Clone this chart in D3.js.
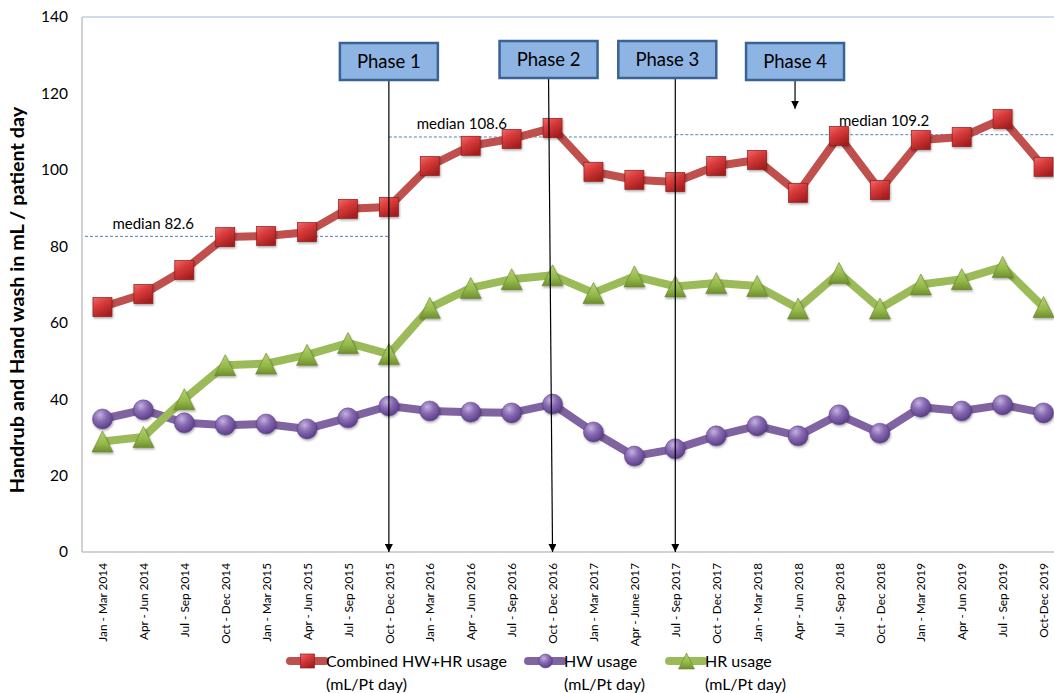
<!DOCTYPE html>
<html>
<head>
<meta charset="utf-8">
<script src="https://cdn.jsdelivr.net/npm/d3@7"></script>
<style>
  html, body { margin: 0; padding: 0; background: #fff; overflow: hidden; }
  svg { display: block; font-family: Lato, "Liberation Sans", sans-serif; }
</style>
</head>
<body>
<svg id="chart" width="1054" height="693"></svg>
<script>
// Quarterly periods
const categories = [
  "Jan - Mar 2014", "Apr - Jun 2014", "Jul - Sep 2014", "Oct - Dec 2014",
  "Jan - Mar 2015", "Apr - Jun 2015", "Jul - Sep 2015", "Oct - Dec 2015",
  "Jan - Mar 2016", "Apr - Jun 2016", "Jul - Sep 2016", "Oct - Dec 2016",
  "Jan - Mar 2017", "Apr - June 2017", "Jul - Sep 2017", "Oct - Dec 2017",
  "Jan - Mar 2018", "Apr - Jun 2018", "Jul - Sep 2018", "Oct - Dec 2018",
  "Jan - Mar 2019", "Apr - Jun 2019", "Jul - Sep 2019", "Oct-Dec 2019"
];

// mL per patient day
const combinedUsage = [64.1, 67.5, 73.8, 82.4, 82.7, 83.7, 89.8, 90.3,
                       101.0, 106.3, 108.1, 111.0, 99.5, 97.4, 96.8, 101.0,
                       102.6, 94.0, 108.9, 94.7, 107.8, 108.6, 113.3, 100.8];
const hwUsage       = [34.8, 37.2, 33.8, 33.2, 33.5, 32.2, 35.1, 38.2,
                       36.9, 36.6, 36.4, 38.7, 31.4, 25.1, 27.0, 30.4,
                       33.0, 30.4, 35.9, 31.1, 37.9, 36.9, 38.5, 36.4];
const hrUsage       = [28.9, 30.1, 40.0, 48.9, 49.3, 51.6, 54.7, 51.8,
                       63.9, 69.1, 71.4, 72.4, 67.8, 72.1, 69.5, 70.4,
                       69.6, 63.7, 73.0, 63.7, 70.0, 71.4, 74.6, 64.1];

const yTicks = [0, 20, 40, 60, 80, 100, 120, 140];

// Median reference lines: value and the period span they cover (null = plot edge)
const medianValues = [82.6, 108.6, 109.2];
const medianFrom   = [null, "Oct - Dec 2015", "Jul - Sep 2017"];
const medianTo     = ["Oct - Dec 2015", "Jul - Sep 2017", null];

// Intervention phases and the period each one starts at
const phaseLabels  = ["Phase 1", "Phase 2", "Phase 3", "Phase 4"];
const phasePeriods = ["Oct - Dec 2015", "Oct - Dec 2016", "Jul - Sep 2017", "Apr - Jun 2018"];

const svg = d3.select("#chart");
const plot = { left: 82, right: 1064, top: 17, bottom: 552 };

const x = d3.scalePoint().domain(categories)
  .range([plot.left, plot.right]).padding(0.5);
const y = d3.scaleLinear().domain([0, 140]).range([plot.bottom, plot.top]);

// ---------- gradients / markers ----------
const defs = svg.append("defs");
const sq = defs.append("linearGradient").attr("id", "gSquare")
  .attr("x1", 0).attr("y1", 0).attr("x2", 0.6).attr("y2", 1);
sq.append("stop").attr("offset", "0%").attr("stop-color", "#f06a6a");
sq.append("stop").attr("offset", "45%").attr("stop-color", "#d83a3a");
sq.append("stop").attr("offset", "100%").attr("stop-color", "#a51f1f");

const ci = defs.append("radialGradient").attr("id", "gCircle")
  .attr("cx", "38%").attr("cy", "30%").attr("r", "70%");
ci.append("stop").attr("offset", "0%").attr("stop-color", "#c4b2e0");
ci.append("stop").attr("offset", "45%").attr("stop-color", "#8a6cb4");
ci.append("stop").attr("offset", "100%").attr("stop-color", "#5c3f8a");

const tr = defs.append("linearGradient").attr("id", "gTriangle")
  .attr("x1", 0).attr("y1", 0).attr("x2", 0).attr("y2", 1);
tr.append("stop").attr("offset", "0%").attr("stop-color", "#b5d46e");
tr.append("stop").attr("offset", "60%").attr("stop-color", "#94b84a");
tr.append("stop").attr("offset", "100%").attr("stop-color", "#6f8f2e");

const shadow = defs.append("filter").attr("id", "shadow")
  .attr("x", "-30%").attr("y", "-30%").attr("width", "160%").attr("height", "160%");
shadow.append("feDropShadow").attr("dx", 0.8).attr("dy", 1.5)
  .attr("stdDeviation", 1).attr("flood-color", "#000").attr("flood-opacity", 0.35);

function drawMarker(g, kind, size) {
  if (kind === "square") {
    g.append("rect").attr("x", -size / 2).attr("y", -size / 2)
      .attr("width", size).attr("height", size)
      .attr("fill", "url(#gSquare)").attr("stroke", "#8f1c1c").attr("stroke-width", 0.7);
  } else if (kind === "circle") {
    g.append("circle").attr("r", size / 2)
      .attr("fill", "url(#gCircle)").attr("stroke", "#553a7e").attr("stroke-width", 0.5);
  } else {
    const h = size;
    g.append("path")
      .attr("d", `M0,${-h / 2} L${size / 2},${h / 2} L${-size / 2},${h / 2} Z`)
      .attr("fill", "url(#gTriangle)").attr("stroke", "#66852a").attr("stroke-width", 0.6);
  }
}

// ---------- plot frame ----------
svg.append("line").attr("x1", plot.left).attr("x2", plot.right)
  .attr("y1", plot.top).attr("y2", plot.top)
  .attr("stroke", "#9fbadb").attr("stroke-width", 1);
svg.append("line").attr("x1", plot.left).attr("x2", plot.left)
  .attr("y1", plot.top).attr("y2", plot.bottom)
  .attr("stroke", "#a5a5a5").attr("stroke-width", 1);
svg.append("line").attr("x1", plot.left).attr("x2", plot.right)
  .attr("y1", plot.bottom).attr("y2", plot.bottom)
  .attr("stroke", "#a5a5a5").attr("stroke-width", 1);

// ---------- axes ----------
const yAxis = svg.append("g").attr("transform", `translate(${plot.left},0)`)
  .call(d3.axisLeft(y).tickValues(yTicks).tickSize(0).tickPadding(14));
yAxis.select(".domain").remove();
yAxis.selectAll("text").attr("font-size", 15.5).attr("fill", "#000")
  .attr("font-family", "Lato, sans-serif");

const xAxis = svg.append("g").attr("transform", `translate(0,${plot.bottom})`)
  .call(d3.axisBottom(x).tickSize(0));
xAxis.select(".domain").remove();
xAxis.selectAll("text")
  .attr("font-size", 11.8).attr("fill", "#000").attr("font-family", "Lato, sans-serif")
  .attr("text-anchor", "end")
  .attr("transform", "rotate(-90)")
  .attr("x", -11).attr("y", 0).attr("dy", "0.35em");

svg.append("text")
  .attr("transform", `translate(24,300) rotate(-90)`)
  .attr("text-anchor", "middle")
  .attr("font-size", 19.8).attr("font-weight", "bold")
  .text("Handrub and Hand wash in mL / patient day");

// ---------- median lines ----------
medianValues.forEach((m, i) => {
  const x1 = medianFrom[i] ? x(medianFrom[i]) : plot.left + 3;
  const x2 = medianTo[i] ? x(medianTo[i]) : plot.right;
  svg.append("line")
    .attr("x1", x1).attr("x2", x2).attr("y1", y(m)).attr("y2", y(m))
    .attr("stroke", "#4f81bd").attr("stroke-width", 1)
    .attr("stroke-dasharray", "3,2");
});
const medianLabelAt = ["Jan - Mar 2014", "Jan - Mar 2016", "Jul - Sep 2018"];
const medianLabelShift = [10, -13, 0];
const medianLabelLift = [7, 8, 9];
medianValues.forEach((m, i) => {
  svg.append("text")
    .attr("x", x(medianLabelAt[i]) + medianLabelShift[i])
    .attr("y", y(m) - medianLabelLift[i])
    .attr("font-size", 15).attr("fill", "#000")
    .text("median " + m);
});

// ---------- series ----------
const series = [
  { values: combinedUsage, color: "#c0504d", marker: "square", size: 19 },
  { values: hwUsage,       color: "#8064a2", marker: "circle", size: 20 },
  { values: hrUsage,       color: "#9bbb59", marker: "triangle", size: 21 }
];
const lineGen = d3.line().x((d, i) => x(categories[i])).y(d => y(d));

series.forEach(s => {
  const g = svg.append("g");
  g.append("path").datum(s.values)
    .attr("d", lineGen)
    .attr("fill", "none").attr("stroke", s.color)
    .attr("stroke-width", 8).attr("stroke-linejoin", "round");
  s.values.forEach((v, i) => {
    const mg = g.append("g")
      .attr("transform", `translate(${x(categories[i])},${y(v)})`)
      .attr("filter", "url(#shadow)");
    drawMarker(mg, s.marker, s.size);
  });
});

// ---------- phase annotations ----------
defs.append("marker").attr("id", "arrow")
  .attr("viewBox", "0 0 10 10").attr("refX", 10).attr("refY", 5)
  .attr("markerWidth", 8).attr("markerHeight", 8)
  .attr("markerUnits", "userSpaceOnUse")
  .attr("orient", "auto")
  .append("path").attr("d", "M0,0 L10,5 L0,10 Z").attr("fill", "#000");

const boxShift = [0, -4, -8, -3];     // box centre relative to its period
const boxTop = [43, 41, 41, 43];
const boxW = 98, boxH = 37;
phaseLabels.forEach((label, i) => {
  const px = x(phasePeriods[i]);
  const cx = px + boxShift[i];
  const bottom = boxTop[i] + boxH;
  if (i < 3) {
    const lx = i === 2 ? px : cx;
    svg.append("line")
      .attr("x1", lx).attr("y1", bottom)
      .attr("x2", px).attr("y2", plot.bottom)
      .attr("stroke", "#000").attr("stroke-width", 1.2)
      .attr("marker-end", "url(#arrow)");
  } else {
    svg.append("line")
      .attr("x1", cx).attr("y1", bottom)
      .attr("x2", cx).attr("y2", y(116))
      .attr("stroke", "#000").attr("stroke-width", 1.2)
      .attr("marker-end", "url(#arrow)");
  }
  svg.append("rect")
    .attr("x", cx - boxW / 2).attr("y", boxTop[i])
    .attr("width", boxW).attr("height", boxH)
    .attr("fill", "#8eb4e3").attr("stroke", "#3a6395").attr("stroke-width", 2.5);
  svg.append("text")
    .attr("x", cx).attr("y", boxTop[i] + boxH / 2 + 6.5)
    .attr("text-anchor", "middle")
    .attr("font-size", 18.5).attr("fill", "#000")
    .text(label);
});

// ---------- legend ----------
const legendNames = ["Combined HW+HR usage", "HW usage", "HR usage"];
const legendUnit = "(mL/Pt day)";
const legendX = [290, 528, 669];
legendNames.forEach((name, i) => {
  const s = series[i];
  const g = svg.append("g").attr("transform", `translate(${legendX[i]},661)`);
  g.append("line").attr("x1", 0).attr("x2", 35).attr("y1", 0).attr("y2", 0)
    .attr("stroke", s.color).attr("stroke-width", 8).attr("stroke-linecap", "round");
  const mg = g.append("g").attr("transform", "translate(17.5,0)");
  drawMarker(mg, s.marker, s.marker === "triangle" ? 16 : 14);
  g.append("text").attr("x", 36).attr("y", 5.5)
    .attr("font-size", 16).attr("fill", "#000").text(name);
  g.append("text").attr("x", 36).attr("y", 28.5)
    .attr("font-size", 16).attr("fill", "#000").text(legendUnit);
});
</script>
</body>
</html>
